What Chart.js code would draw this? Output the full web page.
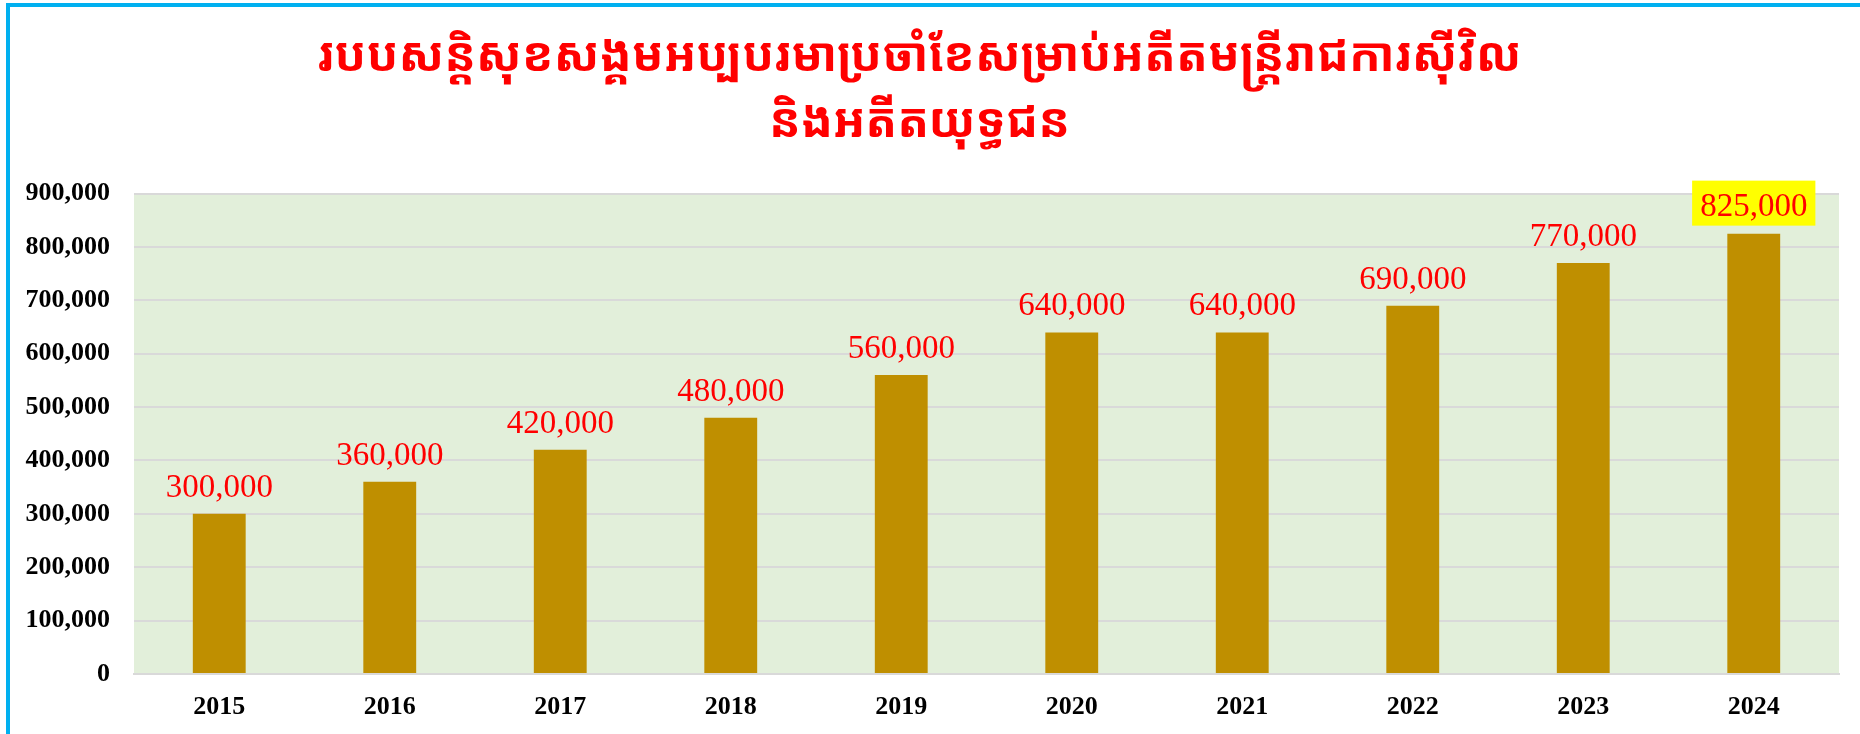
<!DOCTYPE html>
<html>
<head>
<meta charset="utf-8">
<script src="https://cdn.jsdelivr.net/npm/chart.js@4.4.1/dist/chart.umd.min.js"></script>
<style>
  html, body { margin: 0; padding: 0; background: #fff; overflow: hidden; }
  #wrap { position: relative; width: 1860px; height: 734px; }
  #frame {
    position: absolute; left: 6px; top: 3px; right: -10px; bottom: -10px;
    border-left: 4px solid #00B0F0; border-top: 4px solid #00B0F0;
    pointer-events: none;
  }
</style>
</head>
<body>
<div id="wrap">
  <canvas id="barCanvas" width="1860" height="734"></canvas>
  <div id="frame"></div>
</div>
<script>
const titleLines = [
    'របបសន្តិសុខសង្គមអប្បបរមាប្រចាំខែសម្រាប់អតីតមន្ត្រីរាជការស៊ីវិល',
    'និងអតីតយុទ្ធជន'
];
const years = ['2015', '2016', '2017', '2018', '2019', '2020', '2021', '2022', '2023', '2024'];
const amounts = [300000, 360000, 420000, 480000, 560000, 640000, 640000, 690000, 770000, 825000];
const highlighted = [false, false, false, false, false, false, false, false, false, true];

const yMax = 900000;
const yStep = 100000;

const fmt = (v) => v.toLocaleString('en-US');

// plot background
const plotBg = {
    id: 'plotBg',
    beforeDraw(chart) {
        const { ctx, chartArea: a } = chart;
        ctx.save();
        ctx.fillStyle = '#E2EFDA';
        ctx.fillRect(a.left, a.top, a.right - a.left, a.bottom - a.top);
        ctx.restore();
    }
};

// value labels above the bars
const valueLabels = {
    id: 'valueLabels',
    afterDatasetsDraw(chart) {
        const ctx = chart.ctx;
        const meta = chart.getDatasetMeta(0);
        ctx.save();
        ctx.font = '33px "Liberation Serif", "Times New Roman", serif';
        ctx.textAlign = 'center';
        ctx.textBaseline = 'alphabetic';
        meta.data.forEach((bar, i) => {
            const txt = fmt(amounts[i]);
            if (highlighted[i]) {
                const w = ctx.measureText(txt).width + 16;
                ctx.fillStyle = '#FFFF00';
                ctx.fillRect(bar.x - w / 2, bar.y - 53, w, 45);
                ctx.fillStyle = '#FF0000';
                ctx.fillText(txt, bar.x, bar.y - 18);
            } else {
                ctx.fillStyle = '#FF0000';
                ctx.fillText(txt, bar.x, bar.y - 17);
            }
        });
        ctx.restore();
    }
};

new Chart(document.getElementById('barCanvas').getContext('2d'), {
    type: 'bar',
    data: {
        labels: years,
        datasets: [{
            data: amounts,
            backgroundColor: '#BF8F00',
            borderWidth: 0,
            categoryPercentage: 1,
            barPercentage: 0.31
        }]
    },
    options: {
        responsive: false,
        animation: false,
        events: [],
        layout: { padding: { left: 0, right: 21, top: 0, bottom: 0 } },
        plugins: {
            legend: { display: false },
            tooltip: { enabled: false },
            title: {
                display: true,
                text: titleLines,
                color: '#FF0000',
                font: { family: '"Khmer OS Muol Light", "Noto Sans Khmer", "Noto Sans", serif', size: 47, weight: 'bold', lineHeight: 1.4 },
                padding: { top: 25, bottom: 37 }
            }
        },
        scales: {
            x: {
                grid: { display: false, drawTicks: false },
                border: { display: true, color: '#D9D9D9', width: 2 },
                ticks: {
                    color: '#000',
                    padding: 18,
                    font: { family: '"Liberation Serif", "Times New Roman", serif', size: 26, weight: 'bold' }
                },
                afterFit(s) { s.height = 60; }
            },
            y: {
                min: 0,
                max: yMax,
                grid: { color: '#D9D9D9', lineWidth: 2, drawTicks: false },
                border: { display: false },
                ticks: {
                    stepSize: yStep,
                    color: '#000',
                    padding: 24,
                    font: { family: '"Liberation Serif", "Times New Roman", serif', size: 26, weight: 'bold' },
                    callback: (v) => fmt(v)
                },
                afterFit(s) { s.width = 134; }
            }
        }
    },
    plugins: [plotBg, valueLabels]
});
</script>
</body>
</html>
